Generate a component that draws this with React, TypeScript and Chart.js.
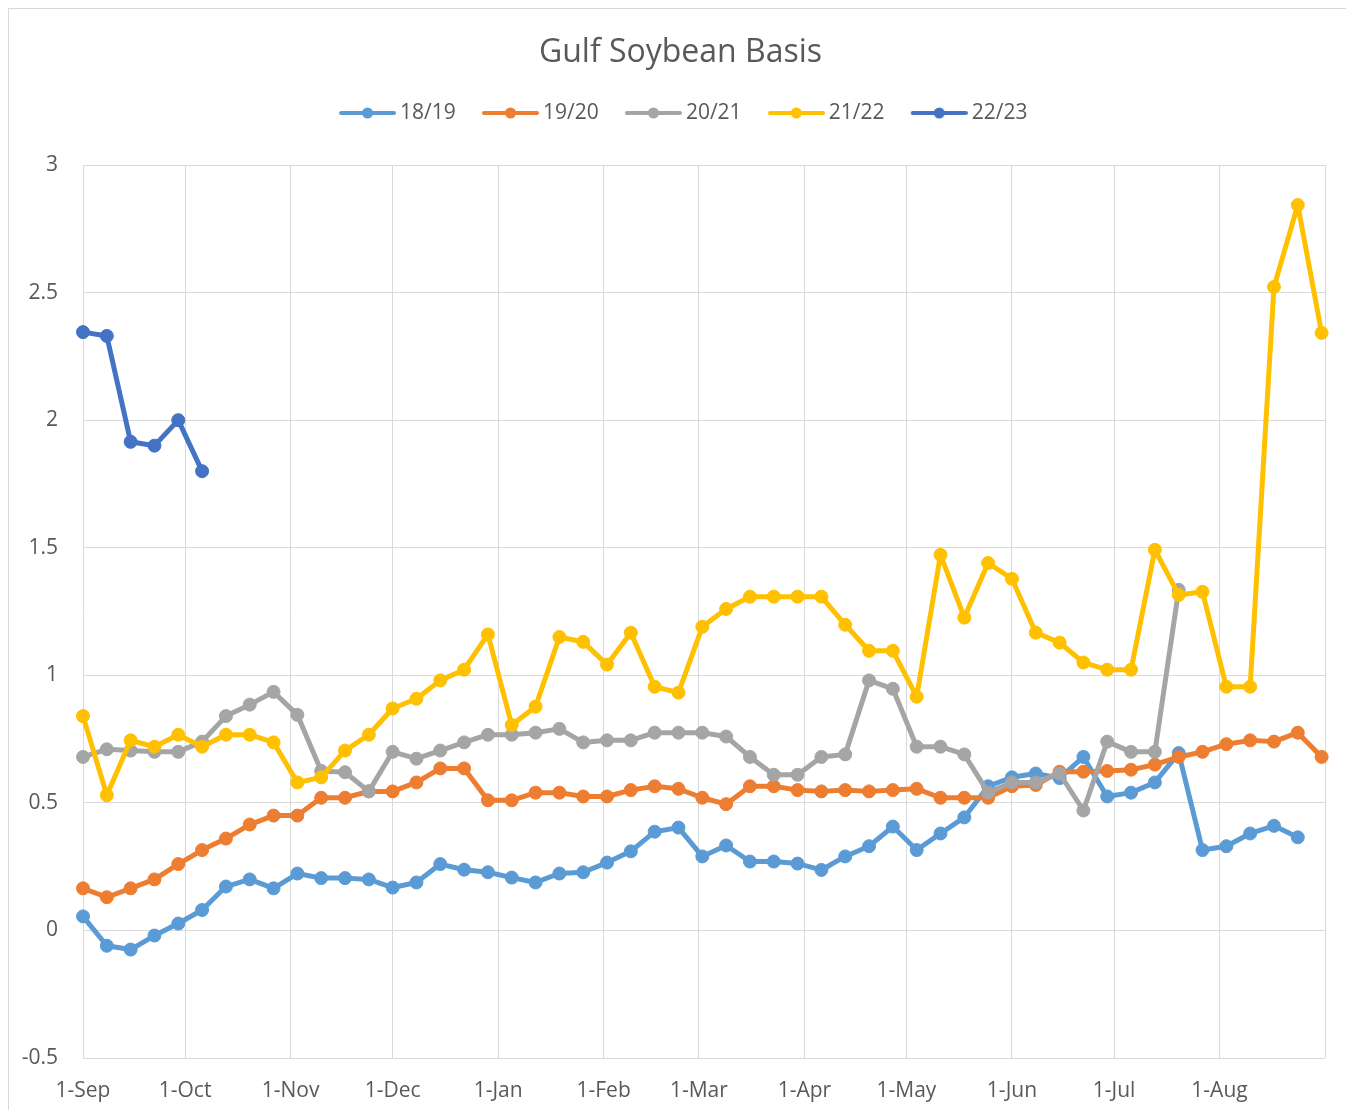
import React, { useEffect, useRef } from 'react';
import { Chart, registerables } from 'chart.js';

Chart.register(...registerables);

const TITLE = 'Gulf Soybean Basis';
const SERIES_NAMES = ['18/19', '19/20', '20/21', '21/22', '22/23'];
const SERIES_COLORS = ['#5B9BD5', '#ED7D31', '#A5A5A5', '#FFC000', '#4472C4'];

// x axis: days since 1-Sep, one gridline per month start
const MONTH_LABELS = ['1-Sep', '1-Oct', '1-Nov', '1-Dec', '1-Jan', '1-Feb', '1-Mar', '1-Apr', '1-May', '1-Jun', '1-Jul', '1-Aug'];
const MONTH_OFFSETS = [0, 30, 61, 91, 122, 153, 181, 212, 242, 273, 303, 334];
const AXIS_END = 365;
const WEEK_DAYS = 7;

const Y_MIN = -0.5;
const Y_MAX = 3;
const Y_STEP = 0.5;

// weekly observations, starting 1-Sep
const S_18_19 = [0.055, -0.06, -0.075, -0.02, 0.027, 0.08, 0.172, 0.2, 0.165, 0.223, 0.205, 0.205, 0.2, 0.168, 0.188, 0.26, 0.238, 0.228, 0.207, 0.188, 0.223, 0.228, 0.266, 0.31, 0.387, 0.403, 0.29, 0.333, 0.27, 0.27, 0.262, 0.237, 0.29, 0.33, 0.407, 0.315, 0.38, 0.443, 0.565, 0.6, 0.615, 0.597, 0.68, 0.525, 0.54, 0.58, 0.695, 0.315, 0.33, 0.38, 0.41, 0.365];
const S_19_20 = [0.165, 0.13, 0.165, 0.2, 0.26, 0.315, 0.36, 0.415, 0.45, 0.45, 0.52, 0.52, 0.545, 0.545, 0.58, 0.635, 0.635, 0.51, 0.51, 0.54, 0.54, 0.525, 0.525, 0.55, 0.565, 0.555, 0.52, 0.495, 0.565, 0.565, 0.55, 0.545, 0.55, 0.545, 0.55, 0.555, 0.52, 0.52, 0.52, 0.565, 0.57, 0.622, 0.622, 0.625, 0.63, 0.65, 0.68, 0.7, 0.73, 0.745, 0.74, 0.775, 0.68];
const S_20_21 = [0.68, 0.71, 0.705, 0.7, 0.7, 0.74, 0.84, 0.885, 0.935, 0.845, 0.625, 0.62, 0.545, 0.7, 0.673, 0.705, 0.737, 0.767, 0.767, 0.775, 0.79, 0.737, 0.745, 0.745, 0.775, 0.775, 0.775, 0.76, 0.68, 0.61, 0.61, 0.68, 0.69, 0.98, 0.947, 0.72, 0.72, 0.69, 0.54, 0.58, 0.58, 0.615, 0.47, 0.74, 0.7, 0.7, 1.335];
const S_21_22 = [0.84, 0.53, 0.745, 0.72, 0.767, 0.72, 0.767, 0.767, 0.737, 0.58, 0.6, 0.705, 0.767, 0.87, 0.908, 0.98, 1.022, 1.16, 0.805, 0.877, 1.15, 1.131, 1.042, 1.167, 0.955, 0.932, 1.19, 1.26, 1.308, 1.308, 1.308, 1.308, 1.198, 1.096, 1.096, 0.916, 1.472, 1.226, 1.44, 1.378, 1.167, 1.128, 1.05, 1.022, 1.022, 1.492, 1.315, 1.327, 0.955, 0.955, 2.522, 2.843, 2.342];
const S_22_23 = [2.345, 2.33, 1.915, 1.9, 2.0, 1.8];

const SERIES_VALUES = [S_18_19, S_19_20, S_20_21, S_21_22, S_22_23];

const TEXT_COLOR = '#595959';
const GRID_COLOR = '#d9d9d9';
const FONT_FAMILY = "'Open Sans', sans-serif";

function makeLegendImage(color: string): HTMLCanvasElement {
  const c = document.createElement('canvas');
  c.width = 69;
  c.height = 14;
  const ctx = c.getContext('2d')!;
  ctx.strokeStyle = color;
  ctx.lineWidth = 4;
  ctx.lineCap = 'round';
  ctx.beginPath();
  ctx.moveTo(14, 7);
  ctx.lineTo(67, 7);
  ctx.stroke();
  ctx.fillStyle = color;
  ctx.beginPath();
  ctx.arc(40.5, 7, 5.5, 0, Math.PI * 2);
  ctx.fill();
  return c;
}

export default function App() {
  const canvasRef = useRef<HTMLCanvasElement | null>(null);

  useEffect(() => {
    let chart: Chart | null = null;
    let cancelled = false;

    const build = () => {
      if (cancelled || !canvasRef.current) return;
      const legendImages = SERIES_COLORS.map(makeLegendImage);

      chart = new Chart(canvasRef.current, {
        type: 'line',
        data: {
          datasets: SERIES_NAMES.map((name, i) => ({
            label: name,
            data: SERIES_VALUES[i].map((v, k) => ({ x: k * WEEK_DAYS, y: v })),
            borderColor: SERIES_COLORS[i],
            backgroundColor: SERIES_COLORS[i],
            pointBackgroundColor: SERIES_COLORS[i],
            pointBorderColor: SERIES_COLORS[i],
            pointBorderWidth: 1,
            pointRadius: 6.5,
            pointHoverRadius: 6.5,
            borderWidth: 5,
            borderJoinStyle: 'round',
            borderCapStyle: 'round',
            tension: 0,
            fill: false,
            clip: false,
            order: SERIES_NAMES.length - 1 - i,
            xAxisID: 'x',
            yAxisID: 'y',
          })),
        },
        options: {
          responsive: false,
          animation: false,
          events: [],
          layout: { padding: 0 },
          plugins: {
            title: {
              display: true,
              text: TITLE,
              color: TEXT_COLOR,
              font: { family: FONT_FAMILY, size: 32, weight: 'normal' },
              padding: { top: 27, bottom: 9.4 },
            },
            legend: {
              display: true,
              position: 'top',
              labels: {
                usePointStyle: true,
                pointStyleWidth: 56,
                padding: 20.7,
                color: TEXT_COLOR,
                font: { family: FONT_FAMILY, size: 21 },
                generateLabels: (ch: any) =>
                  ch.data.datasets.map((ds: any, i: number) => ({
                    text: ds.label,
                    fillStyle: SERIES_COLORS[i],
                    strokeStyle: SERIES_COLORS[i],
                    lineWidth: 0,
                    pointStyle: legendImages[i],
                    hidden: false,
                    datasetIndex: i,
                    fontColor: TEXT_COLOR,
                  })),
              },
            },
            tooltip: { enabled: false },
          },
          scales: {
            x: {
              type: 'linear',
              position: 'bottom',
              min: 0,
              max: AXIS_END,
              afterBuildTicks: (s: any) => {
                s.ticks = [...MONTH_OFFSETS, AXIS_END].map((v) => ({ value: v }));
              },
              afterFit: (s: any) => {
                s.height = 52;
              },
              ticks: {
                autoSkip: false,
                maxRotation: 0,
                minRotation: 0,
                padding: 20,
                color: TEXT_COLOR,
                font: { family: FONT_FAMILY, size: 21 },
                callback: (v: any) => {
                  const idx = MONTH_OFFSETS.indexOf(Number(v));
                  return idx >= 0 ? MONTH_LABELS[idx] : '';
                },
              },
              grid: { color: GRID_COLOR, lineWidth: 1, drawTicks: false },
              border: { display: false },
            },
            gapTop: {
              type: 'linear',
              axis: 'x',
              position: 'top',
              display: true,
              grid: { display: false, drawTicks: false },
              ticks: { display: false },
              border: { display: false },
              afterFit: (s: any) => {
                s.height = 31.5;
              },
            },
            gapRight: {
              type: 'linear',
              axis: 'y',
              position: 'right',
              display: true,
              grid: { display: false, drawTicks: false },
              ticks: { display: false },
              border: { display: false },
              afterFit: (s: any) => {
                s.width = 29;
              },
            },
            y: {
              type: 'linear',
              position: 'left',
              min: Y_MIN,
              max: Y_MAX,
              afterFit: (s: any) => {
                s.width = 76;
              },
              ticks: {
                stepSize: Y_STEP,
                padding: 25,
                color: TEXT_COLOR,
                font: { family: FONT_FAMILY, size: 21 },
                callback: (v: any) => String(Math.round(Number(v) * 10) / 10),
              },
              grid: { color: GRID_COLOR, lineWidth: 1, drawTicks: false },
              border: { display: false },
            },
          },
        } as any,
      });
    };

    const fontsApi = (document as any).fonts;
    if (fontsApi && fontsApi.load) {
      Promise.all([
        fontsApi.load(`21px ${FONT_FAMILY}`),
        fontsApi.load(`32px ${FONT_FAMILY}`),
      ]).then(build, build);
    } else {
      build();
    }

    return () => {
      cancelled = true;
      if (chart) chart.destroy();
    };
  }, []);

  return (
    <div style={{ position: 'relative', width: 1346, height: 1103, margin: '-1px 0 0 -1px' }}>
      <div
        style={{
          position: 'absolute',
          left: 0,
          top: 0,
          width: 1347,
          height: 1103,
          boxSizing: 'border-box',
          border: `2px solid ${GRID_COLOR}`,
          borderBottom: 'none',
        }}
      />
      <canvas
        ref={canvasRef}
        width={1347}
        height={1103}
        style={{ position: 'absolute', left: 0, top: 0, width: 1347, height: 1103 }}
      />
    </div>
  );
}
